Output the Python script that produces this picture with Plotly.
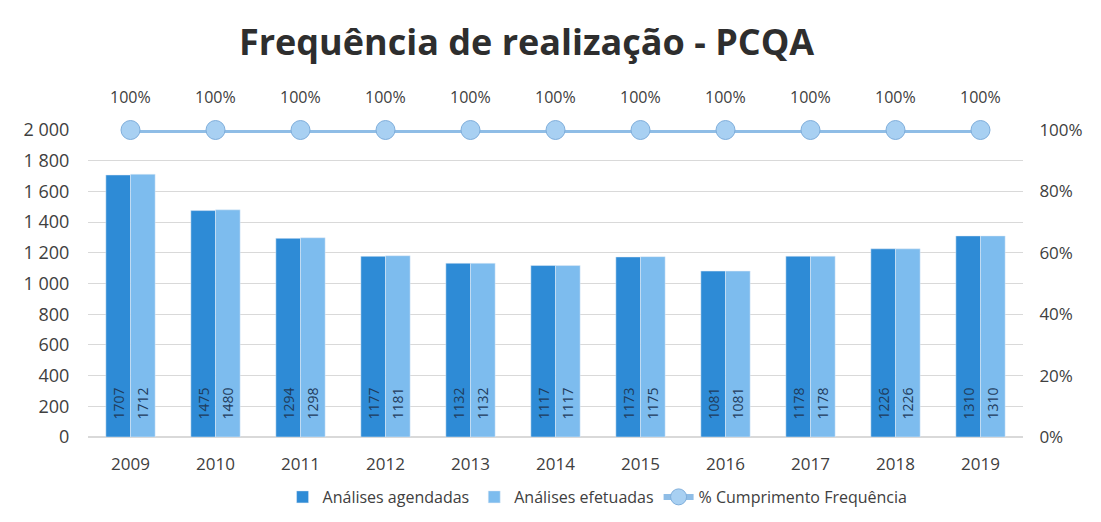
import plotly.graph_objects as go

years = [2009, 2010, 2011, 2012, 2013, 2014, 2015, 2016, 2017, 2018, 2019]
agendadas = [1707, 1475, 1294, 1177, 1132, 1117, 1173, 1081, 1178, 1226, 1310]
efetuadas = [1712, 1480, 1298, 1181, 1132, 1117, 1175, 1081, 1178, 1226, 1310]
cumprimento = [1.0, 1.0, 1.0, 1.0, 1.0, 1.0, 1.0, 1.0, 1.0, 1.0, 1.0]
left_ticks = [0, 200, 400, 600, 800, 1000, 1200, 1400, 1600, 1800, 2000]
left_tick_labels = ["0", "200", "400", "600", "800", "1 000", "1 200", "1 400", "1 600", "1 800", "2 000"]

font_fam = "Open Sans, Noto Sans, sans-serif"
txt_col = "#404040"
pad = "\u00a0" * 4

fig = go.Figure()
fig.add_trace(go.Bar(
    x=years, y=agendadas, name="Análises agendadas",
    marker=dict(color="#2E8BD6"),
    text=[pad + str(v) for v in agendadas], textangle=-90, textposition="inside",
    insidetextanchor="start", textfont=dict(size=15, color="#1F3B5C"),
))
fig.add_trace(go.Bar(
    x=years, y=efetuadas, name="Análises efetuadas",
    marker=dict(color="#7DBCEE"),
    text=[pad + str(v) for v in efetuadas], textangle=-90, textposition="inside",
    insidetextanchor="start", textfont=dict(size=15, color="#1F3B5C"),
))
fig.add_trace(go.Scatter(
    x=years, y=cumprimento, name="% Cumprimento Frequência", yaxis="y2",
    mode="lines+markers",
    line=dict(color="#8FBDE6", width=6),
    marker=dict(size=19, color="#A8D0F2", line=dict(color="#7FAEDB", width=1)),
    cliponaxis=False,
))

for yr, v in zip(years, cumprimento):
    fig.add_annotation(x=yr, y=v, xref="x", yref="y2", text=f"{v*100:.0f}%", showarrow=False,
                       yshift=33, font=dict(size=16, color=txt_col, family=font_fam))

fig.update_layout(
    width=1101, height=522,
    margin=dict(l=80, r=86, t=122, b=93),
    paper_bgcolor="white", plot_bgcolor="white",
    title=dict(text="<b>Frequência de realização - PCQA</b>", x=0.471, xanchor="center",
               y=0.935, yanchor="middle",
               font=dict(size=36, color="#2e2e2e", family=font_fam)),
    barmode="group", bargap=0.42, bargroupgap=0,
    font=dict(family=font_fam, color=txt_col, size=16),
    xaxis=dict(type="linear", range=[2008.5, 2019.5], tickmode="linear", tick0=2009, dtick=1,
               showgrid=False, showline=False, zeroline=False, ticks="outside",
               ticklen=12, tickcolor="rgba(0,0,0,0)",
               tickfont=dict(size=17, color=txt_col)),
    yaxis=dict(range=[0, 2000], tickmode="array", tickvals=left_ticks, ticktext=left_tick_labels,
               showgrid=True, gridcolor="#D9D9D9", gridwidth=1, zeroline=True, zerolinecolor="#D9D9D9",
               ticks="outside", ticklen=14, tickcolor="rgba(0,0,0,0)",
               tickfont=dict(size=18, color=txt_col)),
    yaxis2=dict(range=[0, 1], dtick=0.2, tickformat=".0%", overlaying="y", side="right",
                showgrid=False, zeroline=False, tickfont=dict(size=17, color=txt_col),
                ticks="outside", ticklen=12, tickcolor="rgba(0,0,0,0)"),
    legend=dict(orientation="h", x=0.545, xanchor="center", y=-0.14, yanchor="top",
                font=dict(size=16, color=txt_col), traceorder="normal"),
    showlegend=True,
)

fig.write_html("out.html")
